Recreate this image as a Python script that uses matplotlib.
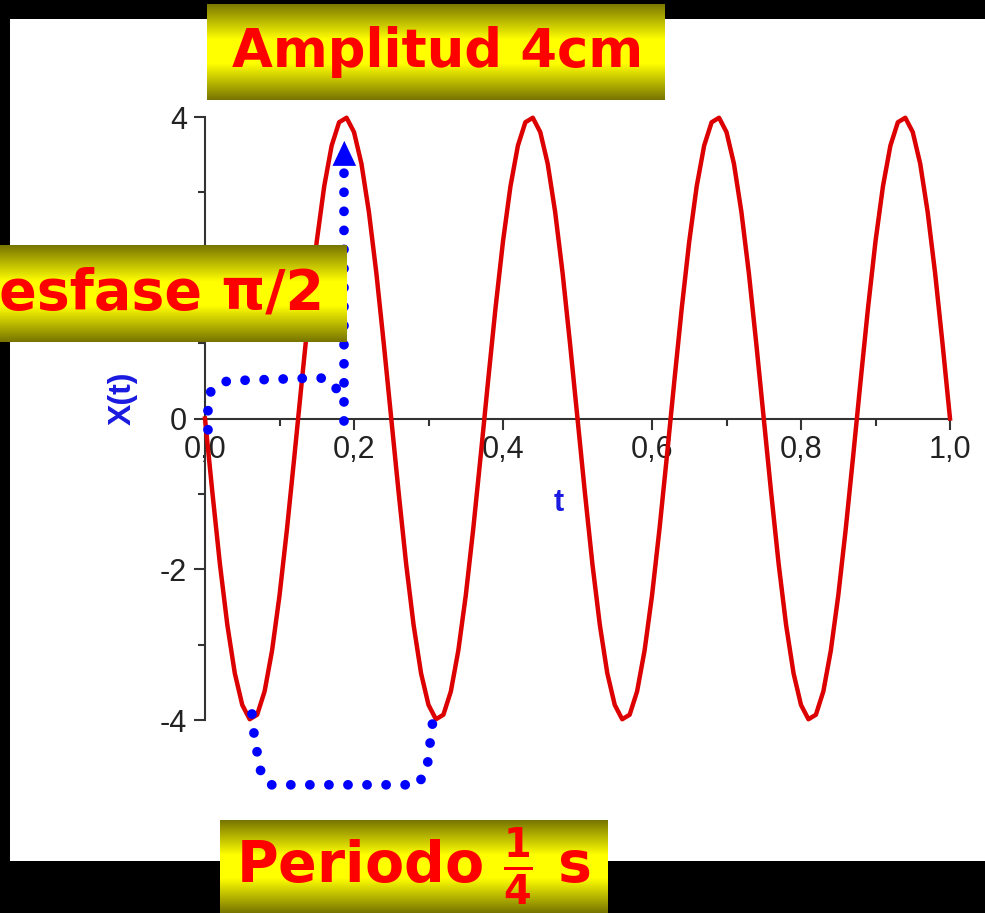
import numpy as np
import matplotlib
matplotlib.use("Agg")
import matplotlib.pyplot as plt
from matplotlib.ticker import MultipleLocator, FuncFormatter

plt.rcParams["font.family"] = ["Liberation Sans", "DejaVu Sans"]
plt.rcParams["mathtext.fontset"] = "dejavusans"

# datos: x(t) en cm, t en s (paso 0.01 s)
t = [round(0.01 * k, 2) for k in range(101)]
x = [0.00, -0.99, -1.93, -2.74, -3.38, -3.80, -3.99, -3.93, -3.62, -3.08,
     -2.35, -1.47, -0.50, 0.50, 1.47, 2.35, 3.08, 3.62, 3.93, 3.99,
     3.80, 3.38, 2.74, 1.93, 0.99,
     0.00, -0.99, -1.93, -2.74, -3.38, -3.80, -3.99, -3.93, -3.62, -3.08,
     -2.35, -1.47, -0.50, 0.50, 1.47, 2.35, 3.08, 3.62, 3.93, 3.99,
     3.80, 3.38, 2.74, 1.93, 0.99,
     0.00, -0.99, -1.93, -2.74, -3.38, -3.80, -3.99, -3.93, -3.62, -3.08,
     -2.35, -1.47, -0.50, 0.50, 1.47, 2.35, 3.08, 3.62, 3.93, 3.99,
     3.80, 3.38, 2.74, 1.93, 0.99,
     0.00, -0.99, -1.93, -2.74, -3.38, -3.80, -3.99, -3.93, -3.62, -3.08,
     -2.35, -1.47, -0.50, 0.50, 1.47, 2.35, 3.08, 3.62, 3.93, 3.99,
     3.80, 3.38, 2.74, 1.93, 0.99,
     0.00]

# trazos punteados de las anotaciones (coordenadas de datos)
desfase_t = [0.004, 0.004, 0.008, 0.030, 0.155, 0.174, 0.184]
desfase_x = [-0.15, 0.13, 0.37, 0.50, 0.54, 0.45, 0.20]
flecha_t = [0.187, 0.187]
flecha_x = [-0.03, 3.35]
periodo_t = [0.063, 0.066, 0.074, 0.087, 0.286, 0.298, 0.307]
periodo_x = [-3.92, -4.20, -4.66, -4.86, -4.86, -4.64, -3.91]

W, H = 985, 913
fig = plt.figure(figsize=(W / 100, H / 100), dpi=100)
fig.patch.set_facecolor("black")

# panel blanco
bg = fig.add_axes([10 / W, 1 - 861 / H, 975 / W, 842 / H], zorder=-5)
bg.set_facecolor("white")
bg.set_xticks([])
bg.set_yticks([])
for s in bg.spines.values():
    s.set_visible(False)

ax = fig.add_axes([205 / W, 1 - 720 / H, 745 / W, 603 / H], zorder=1)
ax.set_facecolor("none")
ax.plot(t, x, color="#dc0000", lw=3.2, zorder=3, clip_on=False)
ax.set_xlim(0, 1)
ax.set_ylim(-4, 4)

for s in ["top", "right"]:
    ax.spines[s].set_visible(False)
ax.spines["bottom"].set_position(("data", 0))
ax.spines["left"].set_position(("data", 0))
for s in ["bottom", "left"]:
    ax.spines[s].set_color("#333333")
    ax.spines[s].set_linewidth(1.5)

ax.xaxis.set_major_locator(MultipleLocator(0.2))
ax.xaxis.set_minor_locator(MultipleLocator(0.1))
ax.yaxis.set_major_locator(MultipleLocator(2))
ax.yaxis.set_minor_locator(MultipleLocator(1))
ax.xaxis.set_major_formatter(FuncFormatter(lambda v, p: f"{v:.1f}".replace(".", ",")))
ax.yaxis.set_major_formatter(FuncFormatter(lambda v, p: f"{v:.0f}"))
ax.tick_params(which="major", direction="out", length=8, width=1.5,
               color="#333333", labelsize=22, labelcolor="#222222")
ax.tick_params(which="minor", direction="out", length=5, width=1.5, color="#333333")
ax.tick_params(axis="x", pad=4)
ax.tick_params(axis="y", pad=5)

fig.text(123 / W, 1 - 398 / H, "X(t)", rotation=90, color="#1a1ae0",
         fontsize=23, fontweight="bold", ha="center", va="center")
fig.text(559 / W, 1 - 503 / H, "t", color="#1a1ae0",
         fontsize=22, fontweight="bold", ha="center", va="center")

dots = dict(color="#0000ff", lw=7, linestyle=(0, (0.01, 1.95)),
            dash_capstyle="round", clip_on=False, zorder=5)
ax.plot(desfase_t, desfase_x, **dots)
ax.plot(flecha_t, flecha_x, **dots)
ax.plot(periodo_t, periodo_x, **dots)
ax.annotate("", xy=(0.187, 3.72), xytext=(0.187, 3.30),
            arrowprops=dict(arrowstyle="-|>,head_length=1.8,head_width=0.85",
                            color="#0000ff", lw=0), zorder=6)

# cajas amarillas con degradado
prof = np.concatenate([np.linspace(0, 1, 40), np.ones(25), np.linspace(1, 0, 40)])
olive = np.array([0.47, 0.46, 0.0])
yellow = np.array([1.0, 1.0, 0.0])
grad = olive[None, :] + (yellow - olive)[None, :] * prof[:, None]
grad = grad[:, None, :]


def caja(x0, y0, x1, y1, texto, tx, ha="center", size=38):
    bx = fig.add_axes([x0 / W, 1 - y1 / H, (x1 - x0) / W, (y1 - y0) / H], zorder=3)
    bx.imshow(grad, aspect="auto", extent=(0, 1, 0, 1))
    bx.set_axis_off()
    bx.text((tx - x0) / (x1 - x0), 0.5, texto, color="#ff0000",
            fontsize=size, fontweight="bold", ha=ha, va="center",
            family=["DejaVu Sans"], clip_on=False, transform=bx.transAxes)


caja(207, 4, 665, 100, "Amplitud 4cm", 438)
caja(0, 245, 347, 342, "Desfase \u03c0/2", 324, ha="right", size=40)
caja(220, 820, 608, 913, r"Periodo $\mathbf{\frac{1}{4}}$ s", 414, size=41)

fig.savefig("out.png", dpi=100, facecolor=fig.get_facecolor())
